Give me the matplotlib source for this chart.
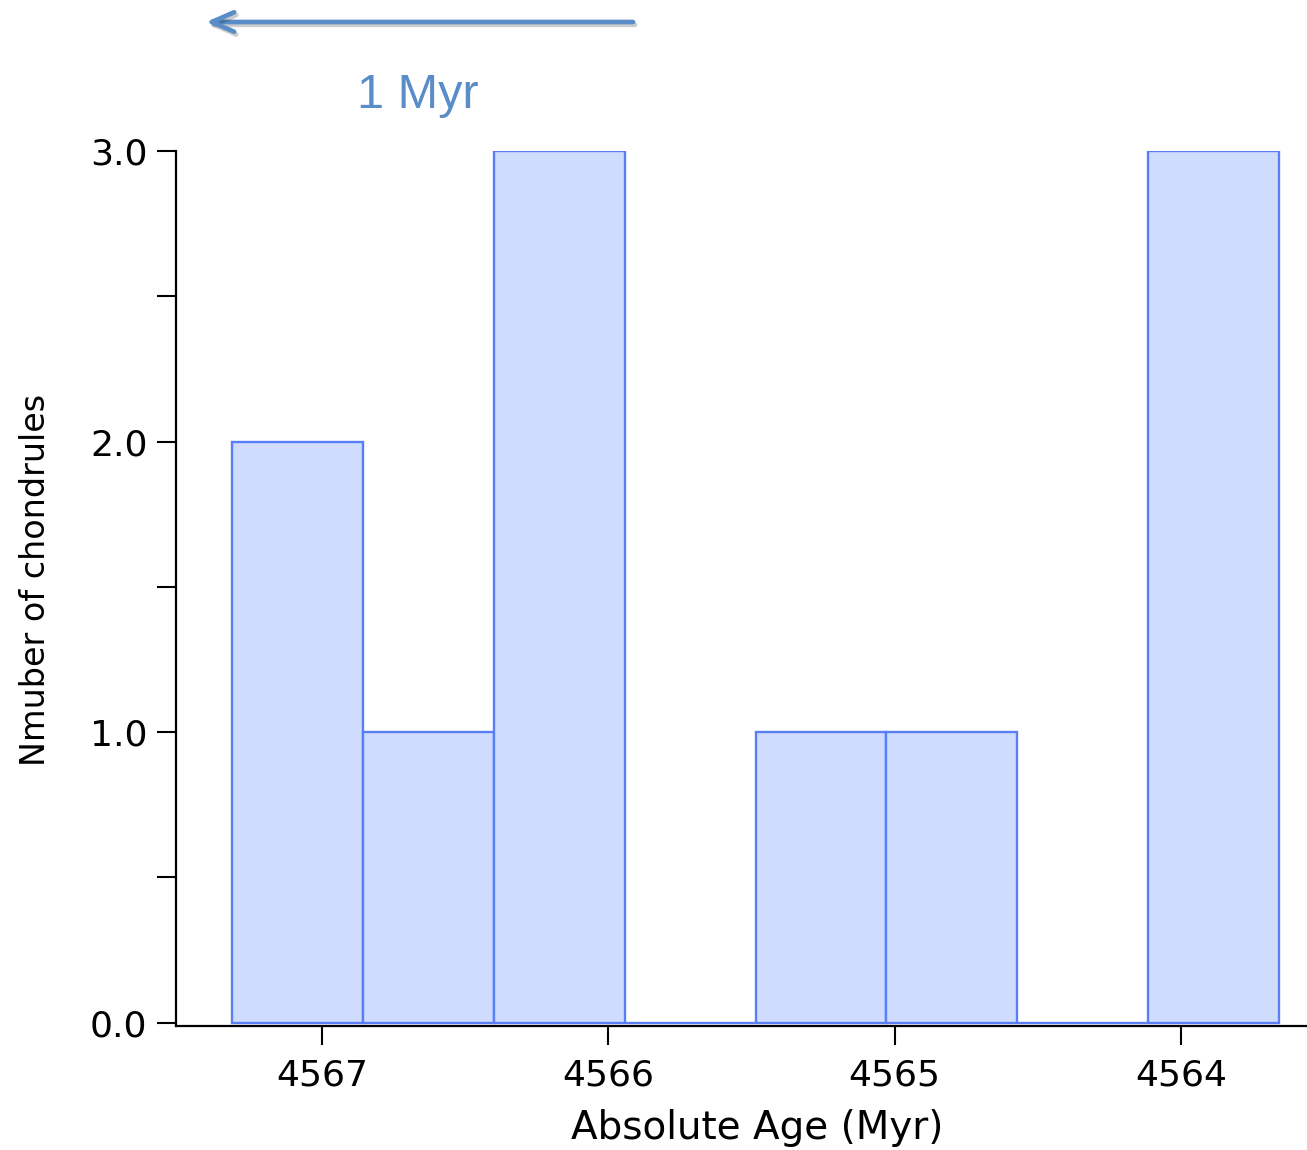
import numpy as np
import matplotlib.pyplot as plt
import matplotlib.patheffects as pe

# histogram bins (Myr, age decreasing to the right) and counts
bin_edges = [4567.315, 4566.858, 4566.400, 4565.943, 4565.486,
             4565.029, 4564.572, 4564.114, 4563.657]
counts = [2, 1, 3, 0, 1, 1, 0, 3]
x_ticks = [4567, 4566, 4565, 4564]
y_ticks = [0.0, 1.0, 2.0, 3.0]

fig = plt.figure(figsize=(13.07, 11.5), dpi=100)
ax = fig.add_axes([176/1307, 1 - 1026/1150, 1 - 176/1307, (1026 - 151)/1150])

edges = np.array(bin_edges)
ax.bar(edges[:-1], counts, width=np.diff(edges), align='edge',
       color='#cfdcfd', edgecolor='#5a7ef7', linewidth=1.7, zorder=2)

ax.set_xlim(4567.51, 4563.56)
ax.set_ylim(-0.012, 3.0)

ax.set_xticks(x_ticks)
ax.set_xticklabels([str(t) for t in x_ticks])
ax.set_yticks(y_ticks)
ax.set_yticklabels(['%.1f' % t for t in y_ticks])
ax.set_yticks([0.5, 1.5, 2.5], minor=True)

for s in ['top', 'right']:
    ax.spines[s].set_visible(False)
for s in ['left', 'bottom']:
    ax.spines[s].set_linewidth(1.6)

ax.tick_params(axis='both', which='both', direction='out', length=13.5, width=1.5,
               labelsize=26, color='black')
ax.tick_params(axis='y', pad=7)
ax.tick_params(axis='x', pad=10)

ax.set_xlabel('Absolute Age (Myr)', fontsize=28)
ax.xaxis.set_label_coords(0.514, -0.095)
ax.set_ylabel('Nmuber of chondrules', fontsize=24)
ax.yaxis.set_label_coords(-0.11, 0.51)

# arrow and scale note at the top
arrow_col = '#5a8dc8'
ax.annotate('', xy=(206/1307, 1 - 22/1150), xytext=(633/1307, 1 - 22/1150),
            xycoords='figure fraction', textcoords='figure fraction',
            arrowprops=dict(arrowstyle='->, head_length=1.6, head_width=0.7',
                            lw=3.4, color=arrow_col, shrinkA=0, shrinkB=0,
                            path_effects=[pe.SimpleLineShadow(offset=(1.5, -2), alpha=0.2),
                                          pe.Normal()]))
fig.text(418/1307, 1 - 96/1150, '1 Myr', fontsize=35, color=arrow_col,
         family=['Liberation Sans', 'DejaVu Sans'], ha='center', va='center')

fig.savefig('out.png', dpi=100)
